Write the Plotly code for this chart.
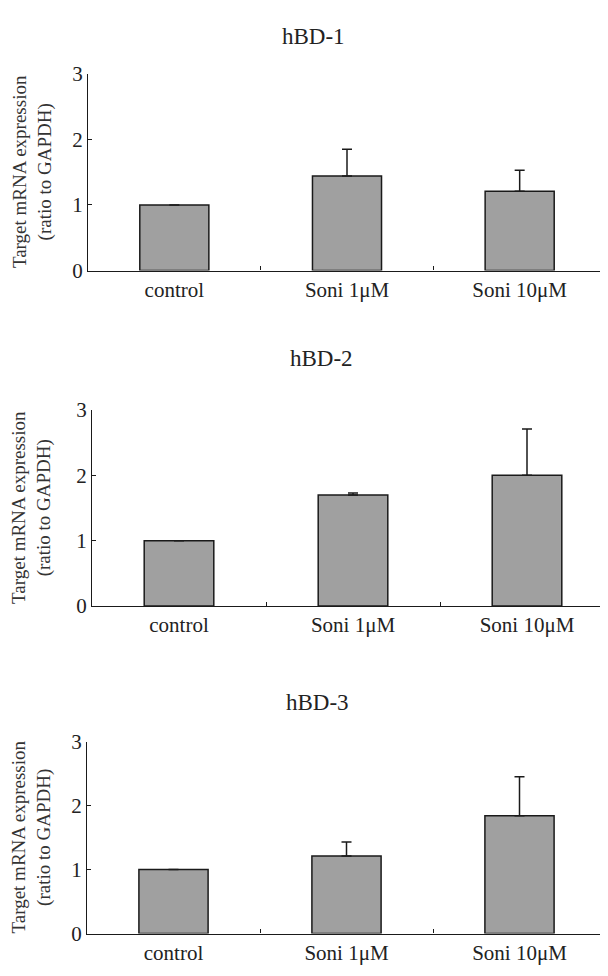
import plotly.graph_objects as go

categories = ["control", "Soni 1\u03bcM", "Soni 10\u03bcM"]
titles = ["hBD-1", "hBD-2", "hBD-3"]
hbd1_values = [1.0, 1.44, 1.21]
hbd1_errors = [0.0, 0.41, 0.32]
hbd2_values = [1.0, 1.70, 2.0]
hbd2_errors = [0.0, 0.03, 0.71]
hbd3_values = [1.0, 1.21, 1.84]
hbd3_errors = [0.0, 0.22, 0.61]
y_ticks = [0, 1, 2, 3]
y_title = "Target mRNA expression<br>(ratio to GAPDH)"

# The page body keeps its default 8px margin, so the figure is sized to fit
# the 608x976 window exactly and all page positions are shifted by 8px.
PAGE_W, PAGE_H, OFF = 608, 976, 8
W, H = PAGE_W - 2 * OFF, PAGE_H - 2 * OFF
FONT = "Liberation Serif"
TXT = "#222222"


def fx(px):
    return min(max((px - OFF) / W, 0.0), 1.0)


def fy(py):
    return min(max(1 - (py - OFF) / H, 0.0), 1.0)


panels = [
    dict(values=hbd1_values, errors=hbd1_errors, x0=88, x1=606, ytop=63, ybot=265, tx=313, ty=25),
    dict(values=hbd2_values, errors=hbd2_errors, x0=92, x1=614, ytop=408, ybot=609, tx=321, ty=355),
    dict(values=hbd3_values, errors=hbd3_errors, x0=87, x1=606, ytop=748, ybot=945, tx=317, ty=708),
]

fig = go.Figure()
annotations = []
for i, p in enumerate(panels):
    n = "" if i == 0 else str(i + 1)
    # visible axis end may be clipped by the page edge; keep category width
    cat_w = (p["x1"] - p["x0"]) / 3.0
    x_end = min(p["x1"], OFF + W)
    r_end = -0.5 + (x_end - p["x0"]) / cat_w
    fig.add_trace(go.Bar(
        x=categories, y=p["values"], width=0.4,
        marker=dict(color="#a0a0a0", line=dict(color="#1a1a1a", width=1.5)),
        error_y=dict(type="data", array=p["errors"], arrayminus=[0] * 3, symmetric=False,
                     color="#1a1a1a", thickness=1.5, width=5),
        xaxis="x" + n, yaxis="y" + n, showlegend=False,
    ))
    fig.layout["xaxis" + n] = dict(
        domain=[fx(p["x0"]), fx(x_end)], range=[-0.5, r_end], anchor="y" + n,
        type="category", tickson="boundaries", ticks="inside", ticklen=4, tickwidth=1,
        tickcolor="#1a1a1a", showline=True, linecolor="#1a1a1a", linewidth=1.2,
        showgrid=False, zeroline=False, fixedrange=True,
        tickfont=dict(family=FONT, size=21, color=TXT),
    )
    fig.layout["yaxis" + n] = dict(
        domain=[fy(p["ybot"]), fy(p["ytop"])], range=[0, 3], anchor="x" + n,
        tickvals=y_ticks, ticks="inside", ticklen=4, tickwidth=1, tickcolor="#1a1a1a",
        showline=True, linecolor="#1a1a1a", linewidth=1.2, showgrid=False, zeroline=False,
        tickfont=dict(family=FONT, size=21, color=TXT), fixedrange=True,
    )
    annotations.append(dict(
        text=titles[i], x=fx(p["tx"]), y=fy(p["ty"]), xref="paper", yref="paper",
        showarrow=False, xanchor="center", yanchor="middle",
        font=dict(family=FONT, size=23, color=TXT),
    ))
    annotations.append(dict(
        text=y_title, x=fx(32), y=fy((p["ytop"] + p["ybot"]) / 2), xref="paper", yref="paper",
        showarrow=False, xanchor="center", yanchor="middle", textangle=-90,
        font=dict(family=FONT, size=19, color="#333333"),
    ))

fig.update_layout(
    width=W, height=H, margin=dict(l=0, r=0, t=0, b=0),
    paper_bgcolor="white", plot_bgcolor="white", annotations=annotations,
)
fig.write_html("out.html")
